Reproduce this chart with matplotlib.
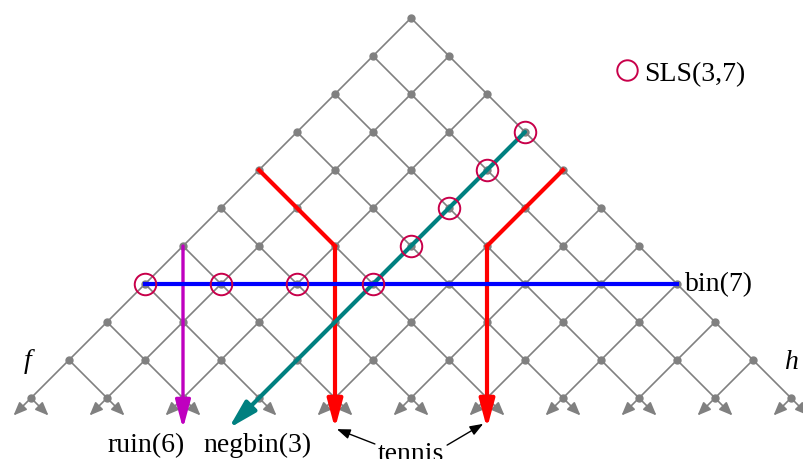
import matplotlib
matplotlib.use("Agg")
import matplotlib.pyplot as plt
from matplotlib.patches import FancyArrowPatch
from matplotlib.collections import LineCollection

plt.rcParams['font.family'] = ['Liberation Serif', 'DejaVu Serif']

# lattice: levels 0..10, column offset c = 2k - r
n_levels = 10
stub = 0.46          # length of the open arrows below the last level

# SLS(3,7) points (row, col)
sls_rows = [7, 7, 7, 7, 6, 5, 4, 3]
sls_cols = [-7, -5, -3, -1, 0, 1, 2, 3]

# stopping lines (rows, cols)
bin_rows, bin_cols = [7, 7], [-7, 7]
ruin_rows, ruin_cols = [6, 10.8], [-6, -6]
negbin_rows, negbin_cols = [3, 10.8], [3, -4.8]
tennis1_rows, tennis1_cols = [4, 6, 10.8], [-4, -2, -2]
tennis2_rows, tennis2_cols = [4, 6, 10.8], [4, 2, 2]

gray = '#808080'
crimson = '#C8004A'

fig = plt.figure(figsize=(8.04, 4.6), dpi=100)
ax = fig.add_axes([0, 0, 1, 1])
ax.set_xlim(-411 / 38, (804 - 411) / 38)
ax.set_ylim((460 - 19) / 38, -19 / 38)
ax.axis('off')

# lattice edges and nodes
segs = []
node_r, node_c = [], []
for r in range(n_levels + 1):
    for k in range(r + 1):
        c = 2 * k - r
        node_r.append(r)
        node_c.append(c)
        if r < n_levels:
            segs.append([(c, r), (c - 1, r + 1)])
            segs.append([(c, r), (c + 1, r + 1)])
ax.add_collection(LineCollection(segs, colors=gray, linewidths=1.2, zorder=1))

for k in range(n_levels + 1):
    c = 2 * k - n_levels
    for d in (-1, 1):
        ax.add_patch(FancyArrowPatch((c, n_levels), (c + d * stub, n_levels + stub),
                                     arrowstyle='-|>,head_length=8,head_width=3.3',
                                     mutation_scale=1, color=gray, lw=1.2,
                                     shrinkA=0, shrinkB=0, zorder=1))
ax.plot(node_c, node_r, 'o', color=gray, ms=5, zorder=2)


def path_arrow(rows, cols, color, lw, z):
    if len(rows) > 2:
        ax.plot(cols[:-1], rows[:-1], color=color, lw=lw, zorder=z,
                solid_joinstyle='miter')
    ax.add_patch(FancyArrowPatch((cols[-2], rows[-2]), (cols[-1], rows[-1]),
                                 arrowstyle='-|>,head_length=17,head_width=4.6',
                                 mutation_scale=1, color=color, lw=lw,
                                 shrinkA=0, shrinkB=0, zorder=z))


path_arrow(ruin_rows, ruin_cols, '#BF00BF', 2.4, 3)
path_arrow(tennis1_rows, tennis1_cols, '#FF0000', 3, 3)
path_arrow(tennis2_rows, tennis2_cols, '#FF0000', 3, 3)
path_arrow(negbin_rows, negbin_cols, '#008080', 3, 4)
ax.plot(bin_cols, bin_rows, color='#0000FF', lw=3, zorder=4)

ax.plot(sls_cols, sls_rows, 'o', ms=15.5, mfc='none', mec=crimson, mew=1.4,
        ls='none', zorder=5, label='SLS(3,7)')

# labels
fs = 20
ax.text(7.22, 7, 'bin(7)', fontsize=fs, ha='left', va='center')
ax.text(-6.97, 11.22, 'ruin(6)', fontsize=fs, ha='center', va='center')
ax.text(-4.05, 11.22, 'negbin(3)', fontsize=fs, ha='center', va='center')
ax.text(0.0, 11.62, 'tennis', fontsize=fs, ha='center', va='baseline')
ax.text(-10.08, 9.0, 'f', fontsize=fs, style='italic', ha='center', va='center')
ax.text(10.03, 9.05, 'h', fontsize=fs, style='italic', ha='center', va='center')

for tail, tip in [((-0.95, 11.21), (-1.95, 10.82)), ((0.95, 11.24), (1.9, 10.68))]:
    ax.annotate('', xy=tip, xytext=tail,
                arrowprops=dict(arrowstyle='-|>,head_length=0.8,head_width=0.3',
                                color='black', lw=1.0, shrinkA=0, shrinkB=0))

ax.legend(loc='center left', bbox_to_anchor=(616 / 804, 1 - 74 / 460),
          frameon=False, fontsize=fs, handlelength=0.8, handletextpad=0.2,
          borderpad=0, borderaxespad=0, markerscale=0.95)

fig.savefig('out.png', dpi=100)
